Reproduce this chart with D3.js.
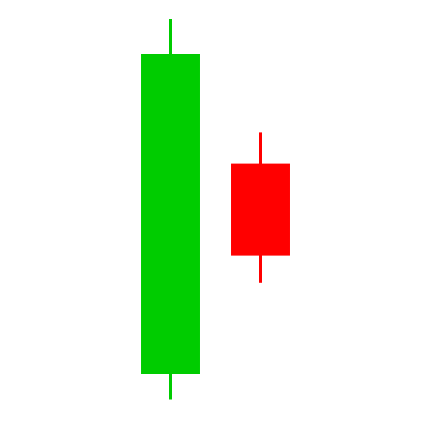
<!DOCTYPE html>
<html>
<head>
<meta charset="utf-8">
<script src="https://cdn.jsdelivr.net/npm/d3@7"></script>
<style>
  html, body { margin: 0; padding: 0; background: #fff; }
  svg { display: block; }
</style>
</head>
<body>
<div id="chart"></div>
<script>
// candle data
const days = ["d1", "d2"];
const opens = [9, 61.6];
const highs = [97.75, 69.4];
const lows = [2.6, 31.8];
const closes = [89, 38.6];

const width = 447;
const height = 431;

const x = d3.scaleBand()
    .domain(days)
    .range([125.5, 305.5])
    .padding(0);

const y = d3.scaleLinear()
    .domain([0, 100])
    .range([410, 10]);

const bodyW = x.bandwidth() * 0.655;

const svg = d3.select("#chart")
    .append("svg")
    .attr("width", width)
    .attr("height", height);

const candles = days.map((d, i) => ({
    day: d, open: opens[i], high: highs[i], low: lows[i], close: closes[i]
}));

const colour = d => d.close >= d.open ? "#00cc00" : "#ff0000";

const g = svg.selectAll(".candle")
    .data(candles)
    .enter()
    .append("g")
    .attr("class", "candle");

// wicks
g.append("line")
    .attr("x1", d => x(d.day) + x.bandwidth() / 2)
    .attr("x2", d => x(d.day) + x.bandwidth() / 2)
    .attr("y1", d => y(d.high))
    .attr("y2", d => y(d.low))
    .attr("stroke", colour)
    .attr("stroke-width", 3);

// bodies
g.append("rect")
    .attr("x", d => x(d.day) + (x.bandwidth() - bodyW) / 2)
    .attr("y", d => y(Math.max(d.open, d.close)))
    .attr("width", bodyW)
    .attr("height", d => Math.abs(y(d.open) - y(d.close)))
    .attr("fill", colour);
</script>
</body>
</html>
